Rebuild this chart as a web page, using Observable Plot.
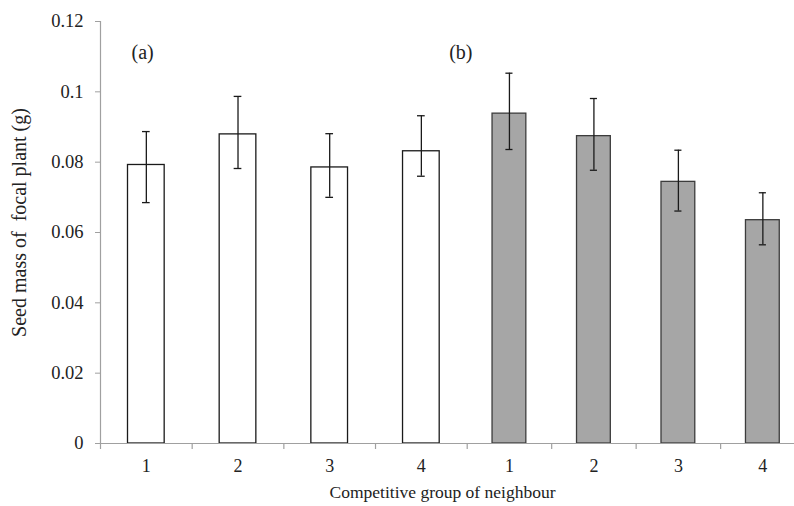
<!DOCTYPE html>
<html>
<head>
<meta charset="utf-8">
<script src="https://cdn.jsdelivr.net/npm/d3@7"></script>
<script src="https://cdn.jsdelivr.net/npm/@observablehq/plot@0.6"></script>
<style>
  html, body { margin: 0; padding: 0; background: #fff; overflow: hidden; }
  #chart svg, #chart svg text { font-family: "Liberation Serif", "Times New Roman", serif !important; }
</style>
</head>
<body>
<div id="chart"></div>
<script>
// Competitive group of the neighbour, for the two experiments (a) and (b)
const groups = ["1", "2", "3", "4", "1", "2", "3", "4"];
const panels = ["a", "a", "a", "a", "b", "b", "b", "b"];
// Mean seed mass of the focal plant (g)
const means = [0.0792, 0.0879, 0.0785, 0.0831, 0.0938, 0.0874, 0.0744, 0.0635];
// Lower and upper ends of the error bars (g)
const errLow = [0.0685, 0.0782, 0.0700, 0.0760, 0.0836, 0.0777, 0.0661, 0.0565];
const errHigh = [0.0887, 0.0987, 0.0881, 0.0932, 0.1053, 0.0981, 0.0834, 0.0713];
const yTicks = [0, 0.02, 0.04, 0.06, 0.08, 0.1, 0.12];
const panelLabels = ["(a)", "(b)"];

const rows = means.map((m, i) => ({
  i, group: groups[i], panel: panels[i], mean: m, lo: errLow[i], hi: errHigh[i]
}));
const slots = d3.range(groups.length + 1);

const axisGray = "#a0a0a0";
const ink = "#222";

const chart = Plot.plot({
  width: 794,
  height: 506,
  marginLeft: 100,
  marginRight: 0,
  marginTop: 21,
  marginBottom: 63,
  style: { background: "white" },
  x: { type: "linear", domain: [0, 4, 8], range: [100, 466.7, 804.6], axis: null },
  y: { domain: [0, 0.12], axis: null },
  marks: [
    // y axis with ticks and labels
    Plot.axisY({
      ticks: yTicks,
      tickFormat: d => String(d),
      tickSize: 5,
      tickPadding: 12,
      stroke: axisGray,
      fill: ink,
      fontSize: 18.5
    }),
    Plot.ruleX([0], { y1: 0, y2: 0.12, stroke: axisGray, strokeWidth: 1.2 }),
    // bars
    Plot.rectY(rows.filter(d => d.panel === "a"), {
      x1: d => d.i + 0.3, x2: d => d.i + 0.7, y1: 0, y2: "mean",
      fill: "white", stroke: "#1a1a1a", strokeWidth: 1.3
    }),
    Plot.rectY(rows.filter(d => d.panel === "b"), {
      x1: d => d.i + 0.3, x2: d => d.i + 0.7, y1: 0, y2: "mean",
      fill: "#a6a6a6", stroke: "#3c3c3c", strokeWidth: 1.3
    }),
    // error bars
    Plot.ruleX(rows, { x: d => d.i + 0.5, y1: "lo", y2: "hi", stroke: "#1a1a1a", strokeWidth: 1.3 }),
    Plot.ruleY(rows, { y: "hi", x1: d => d.i + 0.458, x2: d => d.i + 0.542, stroke: "#1a1a1a", strokeWidth: 1.3 }),
    Plot.ruleY(rows, { y: "lo", x1: d => d.i + 0.458, x2: d => d.i + 0.542, stroke: "#1a1a1a", strokeWidth: 1.3 }),
    // x axis baseline, category boundary ticks and group labels
    Plot.ruleY([0], { stroke: axisGray, strokeWidth: 1.2 }),
    Plot.axisX({ ticks: slots, tickSize: 6, tickFormat: () => "", stroke: axisGray, strokeWidth: 1.2 }),
    Plot.text(rows, {
      x: d => d.i + 0.5, y: 0, text: "group", dy: 23,
      fontSize: 18, fill: ink
    }),
    // panel labels
    Plot.text([panelLabels[0]], { x: 0, frameAnchor: "top", textAnchor: "start", dx: 31, dy: 23, fontSize: 20, fill: ink }),
    Plot.text([panelLabels[1]], { x: 4, frameAnchor: "top", textAnchor: "start", dx: -18, dy: 23, fontSize: 20, fill: ink }),
    // axis titles
    Plot.text(["Seed mass of  focal plant (g)"], {
      frameAnchor: "left", textAnchor: "middle", rotate: -90, dx: -81, dy: -10, fontSize: 20, fill: ink
    }),
    Plot.text(["Competitive group of neighbour"], {
      frameAnchor: "bottom", dy: 54, dx: -5, fontSize: 17.5, fill: ink
    })
  ]
});

document.getElementById("chart").appendChild(chart);
</script>
</body>
</html>
